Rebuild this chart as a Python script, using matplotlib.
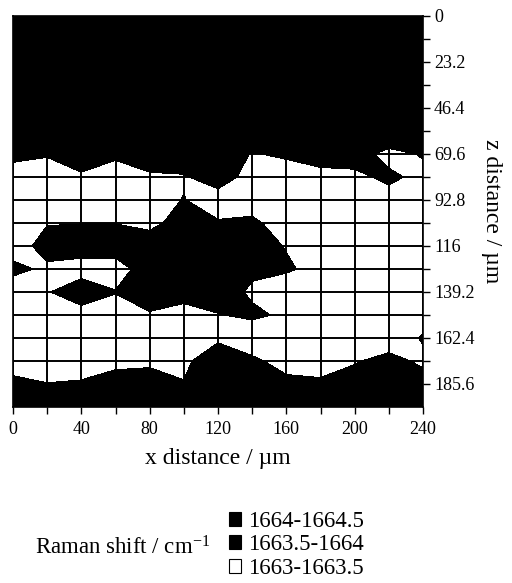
import matplotlib
matplotlib.use("Agg")
from matplotlib import pyplot as plt
from matplotlib.patches import Patch
from matplotlib.ticker import FixedLocator

plt.rcParams['font.family'] = ['Liberation Serif', 'DejaVu Serif']
plt.rcParams['mathtext.default'] = 'regular'

# scan grid
x_um = [0, 20, 40, 60, 80, 100, 120, 140, 160, 180, 200, 220, 240]
z_um = [0.0, 11.6, 23.2, 34.8, 46.4, 58.0, 69.6, 81.2, 92.8, 104.4,
        116.0, 127.6, 139.2, 150.8, 162.4, 174.0, 185.6, 197.2]

# Raman shift (cm-1) at each grid point, one row per z position
raman_shift = [
    [1664.25, 1664.25, 1664.25, 1664.25, 1664.25, 1664.25, 1664.25, 1664.25, 1664.25, 1664.25, 1664.25, 1664.25, 1664.25],
    [1664.25, 1664.25, 1664.25, 1664.25, 1664.25, 1664.25, 1664.25, 1664.25, 1664.25, 1664.25, 1664.25, 1664.25, 1664.25],
    [1664.25, 1664.25, 1664.25, 1664.25, 1664.25, 1664.25, 1664.25, 1664.25, 1664.25, 1664.25, 1664.25, 1664.25, 1664.25],
    [1664.25, 1664.25, 1664.25, 1664.25, 1664.25, 1664.25, 1664.25, 1664.25, 1664.25, 1664.25, 1664.25, 1664.25, 1664.25],
    [1664.25, 1664.25, 1664.25, 1664.25, 1664.25, 1664.25, 1664.25, 1664.25, 1664.25, 1664.25, 1664.25, 1664.25, 1664.25],
    [1664.25, 1664.25, 1664.25, 1664.25, 1664.25, 1664.25, 1664.25, 1664.25, 1664.25, 1664.25, 1664.25, 1664.25, 1664.25],
    [1663.675, 1663.565, 1663.89, 1663.63, 1663.89, 1663.935, 1664.0, 1663.45, 1663.61, 1663.785, 1663.825, 1663.24, 1663.56],
    [1663.175, 1663.065, 1663.39, 1663.13, 1663.39, 1663.435, 1663.8, 1663.25, 1663.11, 1663.285, 1663.325, 1663.65, 1663.29],
    [1663.25, 1663.25, 1663.25, 1663.25, 1663.25, 1663.52, 1663.2, 1663.25, 1663.25, 1663.25, 1663.25, 1663.2, 1663.25],
    [1663.25, 1663.457, 1663.484, 1663.484, 1663.35, 1663.72, 1663.55, 1663.6, 1663.25, 1663.25, 1663.25, 1663.25, 1663.25],
    [1663.1, 1663.8, 1663.8, 1663.8, 1663.8, 1663.8, 1663.8, 1663.8, 1663.457, 1663.25, 1663.25, 1663.25, 1663.25],
    [1663.7, 1663.35, 1663.223, 1663.223, 1663.8, 1663.8, 1663.8, 1663.608, 1663.6, 1663.25, 1663.25, 1663.25, 1663.25],
    [1663.02, 1663.45, 1663.867, 1663.52, 1663.8, 1663.8, 1663.8, 1663.4, 1663.01, 1663.25, 1663.25, 1663.25, 1663.25],
    [1663.25, 1663.25, 1663.223, 1663.25, 1663.44, 1663.18, 1663.47, 1663.608, 1663.4, 1663.25, 1663.25, 1663.25, 1663.25],
    [1663.25, 1663.25, 1663.25, 1663.25, 1663.25, 1663.4, 1663.415, 1663.07, 1663.25, 1663.25, 1663.25, 1663.13, 1663.55],
    [1663.25, 1663.25, 1663.25, 1663.25, 1663.25, 1663.4, 1663.8, 1663.62, 1663.25, 1663.25, 1663.44, 1663.7, 1663.37],
    [1663.635, 1663.51, 1663.55, 1663.89, 1664.08, 1663.52, 1663.8, 1663.8, 1663.667, 1663.59, 1663.8, 1663.8, 1663.8],
    [1664.0, 1664.0, 1664.0, 1664.0, 1664.0, 1664.0, 1664.0, 1664.0, 1664.0, 1664.0, 1664.0, 1664.0, 1664.0],
]

levels = [1663.0, 1663.5, 1664.0, 1664.5]
range_labels = ["1663-1663.5", "1663.5-1664", "1664-1664.5"]
range_colors = ["white", "black", "black"]

x_labelled = [0, 40, 80, 120, 160, 200, 240]
z_labelled = z_um[0:17:2]

fig = plt.figure(figsize=(5.12, 5.83), dpi=100)
ax = fig.add_axes([13 / 512, 1 - 407 / 583, 410 / 512, 391 / 583])

cs = ax.contourf(x_um, z_um, raman_shift, levels=levels, colors=range_colors)
cs.set_edgecolor('face')
cs.set_linewidth(0.4)

ax.set_xlim(0, 240)
ax.set_ylim(197.2, 0)

ax.xaxis.set_major_locator(FixedLocator(x_labelled))
ax.xaxis.set_minor_locator(FixedLocator([x for x in x_um if x not in x_labelled]))
ax.set_xticklabels([f"{x:g}" for x in x_labelled])

ax.yaxis.tick_right()
ax.yaxis.set_label_position('right')
ax.yaxis.set_major_locator(FixedLocator(z_labelled))
ax.yaxis.set_minor_locator(FixedLocator(z_um[1:17:2]))
ax.set_yticklabels([f"{z:g}" for z in z_labelled])

ax.tick_params(which='both', direction='out', length=5, width=1, colors='black', labelsize=13)
ax.tick_params(axis='x', which='both', pad=5)
ax.tick_params(axis='y', which='both', pad=3)
ax.grid(which='both', color='black', linewidth=1.4)
for spine in ax.spines.values():
    spine.set_linewidth(1.2)

ax.set_xlabel("x distance / \u00b5m", fontsize=17, labelpad=7)
ax.set_ylabel("z distance / \u00b5m", fontsize=17, rotation=270, labelpad=20)

# legend: highest range on top
handles = [Patch(facecolor=c, edgecolor='black', linewidth=0.8) for c in range_colors[::-1]]
fig.legend(handles, range_labels[::-1], loc='center left', bbox_to_anchor=(0.447, 1 - 545 / 583),
           frameon=False, fontsize=16.5, handlelength=0.55, handleheight=0.55, handletextpad=0.3,
           labelspacing=0.1, borderpad=0, borderaxespad=0)
fig.text(35 / 512, 1 - 548 / 583, "Raman shift / cm$^{-1}$", fontsize=16.5, va='center', ha='left')

fig.savefig("out.png", dpi=100)
